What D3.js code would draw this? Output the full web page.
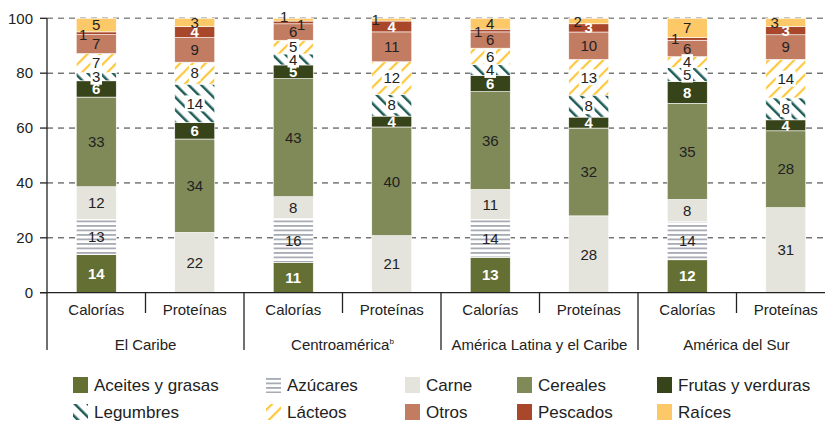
<!DOCTYPE html>
<html><head><meta charset="utf-8">
<script src="https://cdn.jsdelivr.net/npm/d3@7"></script>
<style>body{margin:0;background:#fff}svg{display:block;font-family:"Liberation Sans",Arial,sans-serif}</style>
</head><body><svg id="c" width="825" height="421"></svg>
<script>
// ---- data ----
const groups = ["El Caribe", "Centroamérica", "América Latina y el Caribe", "América del Sur"];
const measures = ["Calorías", "Proteínas"];
const seriesNames = ["Aceites y grasas","Azúcares","Carne","Cereales","Frutas y verduras","Legumbres","Lácteos","Otros","Pescados","Raíces"];
// bars: Caribe Cal, Caribe Prot, Centro Cal, Centro Prot, ALC Cal, ALC Prot, Sur Cal, Sur Prot
const aceites   = [14, 0, 11, 0, 13, 0, 12, 0];
const azucares  = [13, 0, 16, 0, 14, 0, 14, 0];
const carne     = [12, 22, 8, 21, 11, 28, 8, 31];
const cereales  = [33, 34, 43, 40, 36, 32, 35, 28];
const frutas    = [6, 6, 5, 4, 6, 4, 8, 4];
const legumbres = [3, 14, 4, 8, 4, 8, 5, 8];
const lacteos   = [7, 8, 5, 12, 6, 13, 4, 14];
const otros     = [7, 9, 6, 11, 6, 10, 6, 9];
const pescados  = [1, 4, 1, 4, 1, 3, 1, 3];
const raices    = [5, 3, 1, 1, 4, 2, 7, 3];
const yTicks = [0, 20, 40, 60, 80, 100];

const seriesValues = [aceites, azucares, carne, cereales, frutas, legumbres, lacteos, otros, pescados, raices];

// ---- styles ----
const fills = ["#636f33", "url(#pAz)", "#e4e4dc", "#808a58", "#374318", "url(#pLeg)", "url(#pLac)", "#c27c62", "#a8472a", "#fdc867"];
const labelStyle = [
  {c:"#fff", w:"bold"}, {c:"#222"}, {c:"#222"}, {c:"#222"}, {c:"#fff", w:"bold"},
  {c:"#222", bg:true}, {c:"#222", bg:true}, {c:"#222"}, {c:"#fff", w:"bold"}, {c:"#222"}
];
// label offsets for tiny segments: key "bar-series" -> [dx, dy]
const labelOffsets = {
  "0-8": [-13, 2], "2-9": [-9, -3], "2-8": [8, 2], "3-9": [-16, 0],
  "4-8": [-12, 1], "5-9": [-11, 1], "6-8": [-12, 0], "7-9": [-11, 0]
};

const svg = d3.select("#c");
const defs = svg.append("defs");
// patterns
const pAz = defs.append("pattern").attr("id","pAz").attr("patternUnits","userSpaceOnUse").attr("width",8).attr("height",4.5);
pAz.append("rect").attr("width",8).attr("height",4.5).attr("fill","#fff");
pAz.append("rect").attr("y",0).attr("width",8).attr("height",1.8).attr("fill","#a7abb3");
const pLeg = defs.append("pattern").attr("id","pLeg").attr("patternUnits","userSpaceOnUse").attr("width",9).attr("height",9).attr("patternTransform","rotate(-45)");
pLeg.append("rect").attr("width",9).attr("height",9).attr("fill","#fff");
pLeg.append("rect").attr("x",0).attr("width",2.5).attr("height",9).attr("fill","#1f5d58");
const pLac = defs.append("pattern").attr("id","pLac").attr("patternUnits","userSpaceOnUse").attr("width",9).attr("height",9).attr("patternTransform","rotate(45)");
pLac.append("rect").attr("width",9).attr("height",9).attr("fill","#fff");
pLac.append("rect").attr("x",0).attr("width",2.2).attr("height",9).attr("fill","#fcc83e");

// ---- scales ----
const left = 47, right = 835, y0 = 292.7, y100 = 18.3;
const barKeys = d3.range(8);
const x = d3.scaleBand().domain(barKeys).range([left, right]).paddingInner(0).paddingOuter(0);
const y = d3.scaleLinear().domain([0, 100]).range([y0, y100]);
const barW = 40;

// gridlines
svg.append("g").selectAll("line").data(yTicks.filter(d => d > 0)).join("line")
  .attr("x1", left).attr("x2", 825).attr("y1", d => y(d)).attr("y2", d => y(d))
  .attr("stroke", d => d === 100 ? "#8a8a8a" : "#333").attr("stroke-width", d => d === 100 ? 1.5 : 1)
  .attr("stroke-dasharray", "6,5");

// stacks
const stackData = barKeys.map(i => {
  const vals = seriesValues.map(s => s[i]);
  const total = d3.sum(vals);
  let cum = 0;
  return vals.map((v, k) => { const s = cum; cum += v; return {bar: i, k, v, y0: s / total * 100, y1: cum / total * 100}; });
});
const segs = stackData.flat().filter(d => d.v > 0);
svg.append("g").selectAll("rect").data(segs).join("rect")
  .attr("x", d => x(d.bar) + x.bandwidth() / 2 - barW / 2)
  .attr("width", barW)
  .attr("y", d => y(d.y1)).attr("height", d => y(d.y0) - y(d.y1))
  .attr("fill", d => fills[d.k])
  .attr("stroke", "#fff").attr("stroke-width", 0.6);

// labels
const lg = svg.append("g").attr("font-size", 15).attr("text-anchor", "middle");
segs.forEach(d => {
  const key = d.bar + "-" + d.k;
  const off = labelOffsets[key] || [0, 0];
  const cx = x(d.bar) + x.bandwidth() / 2 + off[0];
  const cy = y((d.y0 + d.y1) / 2) + off[1];
  let st = labelStyle[d.k];
  if (labelOffsets[key]) st = {c: "#222"};
  if (st.bg) {
    const w = String(d.v).length * 8.5 + 3;
    lg.append("rect").attr("x", cx - w / 2).attr("y", cy - 8).attr("width", w).attr("height", 16).attr("fill", "#fff");
  }
  lg.append("text").attr("x", cx).attr("y", cy).attr("dy", "0.35em")
    .attr("fill", st.c).attr("font-weight", st.w || "normal").text(d.v);
});

// axes
const ax = svg.append("g").attr("stroke", "#222").attr("stroke-width", 1.3);
ax.append("line").attr("x1", left).attr("x2", left).attr("y1", y100).attr("y2", 350);
ax.append("line").attr("x1", 40).attr("x2", 825).attr("y1", y0).attr("y2", y0);
ax.selectAll(".tk").data(yTicks).join("line").attr("x1", 40).attr("x2", left)
  .attr("y1", d => y(d)).attr("y2", d => y(d));
svg.append("g").attr("font-size", 15).attr("text-anchor", "end").attr("fill", "#222")
  .selectAll("text").data(yTicks).join("text").attr("x", 33).attr("y", d => y(d)).attr("dy", "0.35em").text(d => d);

// separators
const gW = x.bandwidth() * 2;
groups.forEach((g, gi) => {
  const gx = left + gi * gW;
  if (gi > 0) ax.append("line").attr("x1", gx).attr("x2", gx).attr("y1", y0).attr("y2", 350);
  ax.append("line").attr("x1", gx + x.bandwidth()).attr("x2", gx + x.bandwidth()).attr("y1", y0).attr("y2", 313);
});
// category labels
svg.append("g").attr("font-size", 15).attr("text-anchor", "middle").attr("fill", "#222")
  .selectAll("text").data(barKeys).join("text")
  .attr("x", d => x(d) + x.bandwidth() / 2).attr("y", 315).text(d => measures[d % 2]);
const gl = svg.append("g").attr("font-size", 15).attr("text-anchor", "middle").attr("fill", "#222");
groups.forEach((g, gi) => {
  const t = gl.append("text").attr("x", left + gi * gW + gW / 2).attr("y", 350);
  t.text(g);
  if (g === "Centroamérica") t.append("tspan").attr("font-size", 8).attr("dy", -6).text("b");
});

// legend
const legX = [73, 266, 405, 517, 657];
const legY = [377, 404];
const leg = svg.append("g");
seriesNames.forEach((n, k) => {
  const col = k % 5, row = Math.floor(k / 5);
  const gx = legX[col], gy = legY[row];
  leg.append("rect").attr("x", gx).attr("y", gy).attr("width", 15).attr("height", 16).attr("fill", fills[k]);
  leg.append("text").attr("x", gx + 21).attr("y", gy + 8).attr("dy", "0.35em").attr("font-size", 17).attr("fill", "#222").text(n);
});
</script></body></html>
